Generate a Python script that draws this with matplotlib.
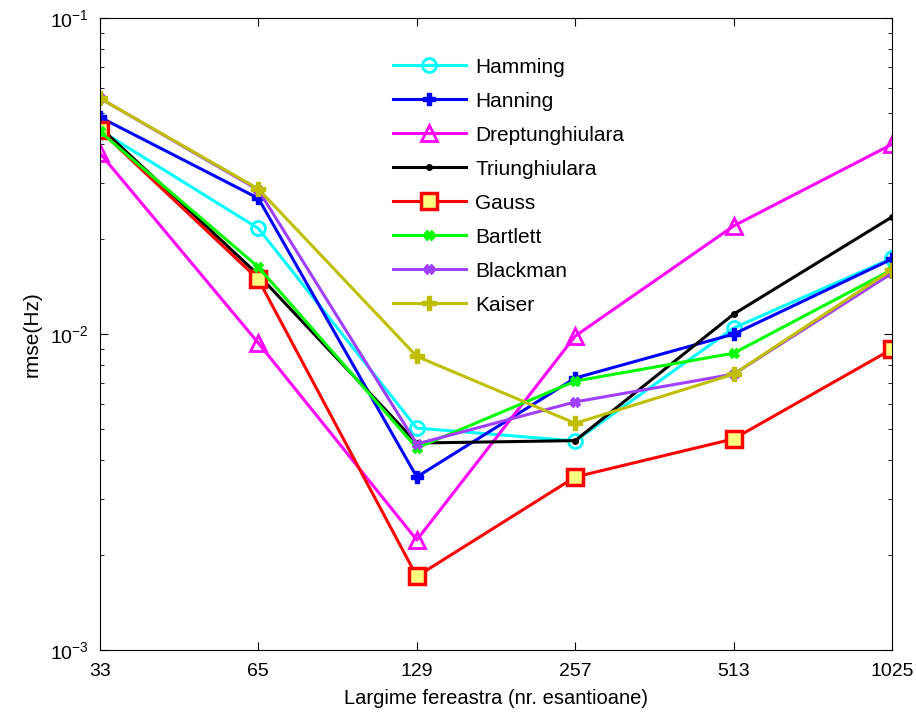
import matplotlib.pyplot as plt
import numpy as np

window_sizes = ['33', '65', '129', '257', '513', '1025']
hamming = [0.0442, 0.0216, 0.00504, 0.00459, 0.01045, 0.0174]
hanning = [0.0486, 0.0269, 0.00353, 0.00726, 0.0100, 0.0173]
dreptunghiulara = [0.0374, 0.00937, 0.00223, 0.00986, 0.0220, 0.0399]
triunghiulara = [0.0452, 0.0154, 0.00452, 0.00460, 0.01157, 0.0235]
gauss = [0.0442, 0.0149, 0.00171, 0.00353, 0.00466, 0.00897]
bartlett = [0.0438, 0.0163, 0.00436, 0.0071, 0.0087, 0.0160]
blackman = [0.0558, 0.0286, 0.00449, 0.0061, 0.00747, 0.0156]
kaiser = [0.0558, 0.0288, 0.0085, 0.00522, 0.00747, 0.0160]

plt.rcParams['font.family'] = ['Liberation Sans', 'DejaVu Sans']

fig = plt.figure(figsize=(9.16, 7.14), dpi=100)
ax = fig.add_axes([0.109, 0.0896, 0.865, 0.885])
x = np.arange(len(window_sizes))

lw = 2.2
ax.plot(x, hamming, color='#00ffff', lw=lw, marker='o', ms=10, mfc='none', mew=2, label='Hamming')
ax.plot(x, hanning, color='#0000ff', lw=lw, marker='P', ms=9, label='Hanning')
ax.plot(x, dreptunghiulara, color='#ff00ff', lw=lw, marker='^', ms=12, mfc='none', mew=2, label='Dreptunghiulara')
ax.plot(x, triunghiulara, color='black', lw=lw, marker='.', ms=8, label='Triunghiulara')
ax.plot(x, gauss, color='#ff0000', lw=lw, marker='s', ms=11, mfc='#ffff80', mew=2.5, label='Gauss')
ax.plot(x, bartlett, color='#00ff00', lw=lw, marker='X', ms=7, label='Bartlett')
ax.plot(x, blackman, color='#a040ff', lw=lw, marker='X', ms=7, label='Blackman')
ax.plot(x, kaiser, color='#bfbf00', lw=lw, marker='P', ms=10, label='Kaiser')

ax.set_yscale('log')
ax.set_ylim(1e-3, 1e-1)
ax.set_xlim(0, 5)
ax.set_xticks(x)
ax.set_xticklabels(window_sizes)
ax.tick_params(which='both', direction='in', top=True, right=True, labelsize=14)
ax.tick_params(which='major', length=6)
ax.tick_params(which='minor', length=3)
ax.tick_params(axis='x', pad=9)
ax.tick_params(axis='y', pad=8)
ax.set_xlabel('Largime fereastra (nr. esantioane)', fontsize=14.5, labelpad=7)
ax.set_ylabel('rmse(Hz)', fontsize=15, labelpad=6)
ax.legend(loc='upper left', bbox_to_anchor=(0.346, 0.967), frameon=False, fontsize=15,
          handlelength=3.5, handletextpad=0.45, labelspacing=0.72)

fig.savefig('out.png', dpi=100)
